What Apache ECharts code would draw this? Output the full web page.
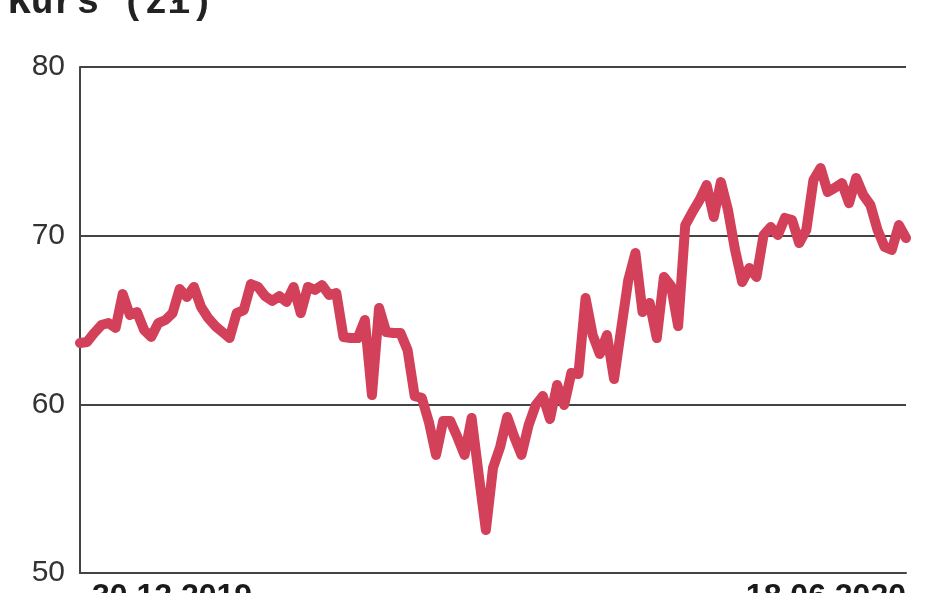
<!DOCTYPE html>
<html>
<head>
<meta charset="utf-8">
<script src="https://cdn.jsdelivr.net/npm/echarts@6/dist/echarts.min.js"></script>
<style>
html,body{margin:0;padding:0;background:#fff;}
#chart{width:948px;height:593px;}
</style>
</head>
<body>
<div id="chart"></div>
<script>
var titleText = 'Kurs (zł)';
var yTicks = [50, 60, 70, 80];
var dates = [
'30.12.2019',
'02.01.2020','03.01.2020','07.01.2020','08.01.2020','09.01.2020','10.01.2020','13.01.2020','14.01.2020','15.01.2020','16.01.2020','17.01.2020','20.01.2020','21.01.2020','22.01.2020','23.01.2020','24.01.2020','27.01.2020','28.01.2020','29.01.2020','30.01.2020','31.01.2020',
'03.02.2020','04.02.2020','05.02.2020','06.02.2020','07.02.2020','10.02.2020','11.02.2020','12.02.2020','13.02.2020','14.02.2020','17.02.2020','18.02.2020','19.02.2020','20.02.2020','21.02.2020','24.02.2020','25.02.2020','26.02.2020','27.02.2020','28.02.2020',
'02.03.2020','03.03.2020','04.03.2020','05.03.2020','06.03.2020','09.03.2020','10.03.2020','11.03.2020','12.03.2020','13.03.2020','16.03.2020','17.03.2020','18.03.2020','19.03.2020','20.03.2020','23.03.2020','24.03.2020','25.03.2020','26.03.2020','27.03.2020','30.03.2020','31.03.2020',
'01.04.2020','02.04.2020','03.04.2020','06.04.2020','07.04.2020','08.04.2020','09.04.2020','14.04.2020','15.04.2020','16.04.2020','17.04.2020','20.04.2020','21.04.2020','22.04.2020','23.04.2020','24.04.2020','27.04.2020','28.04.2020','29.04.2020','30.04.2020',
'04.05.2020','05.05.2020','06.05.2020','07.05.2020','08.05.2020','11.05.2020','12.05.2020','13.05.2020','14.05.2020','15.05.2020','18.05.2020','19.05.2020','20.05.2020','21.05.2020','22.05.2020','25.05.2020','26.05.2020','27.05.2020','28.05.2020','29.05.2020',
'01.06.2020','02.06.2020','03.06.2020','04.06.2020','05.06.2020','08.06.2020','09.06.2020','10.06.2020','12.06.2020','15.06.2020','16.06.2020','17.06.2020','18.06.2020'
];
var prices = [
63.64,63.70,64.23,64.70,64.82,64.53,66.54,65.30,65.47,64.41,
63.99,64.82,65.00,65.41,66.84,66.36,66.96,65.77,65.12,64.64,
64.29,63.93,65.41,65.59,67.13,66.96,66.42,66.13,66.42,66.07,
66.96,65.41,66.96,66.78,67.07,66.48,66.60,63.99,63.93,63.93,
65.00,60.55,65.71,64.29,64.23,64.23,63.22,60.49,60.38,58.95,
57.00,59.01,59.01,58.06,57.00,59.19,55.81,52.55,56.23,57.47,
59.25,58.06,57.00,58.77,59.96,60.49,59.13,61.15,59.96,61.86,
61.80,66.30,64.11,62.98,64.11,61.50,64.47,67.37,68.97,65.47,
66.01,63.93,67.55,67.02,64.64,70.63,71.40,72.11,73.00,71.11,
73.18,71.52,69.15,67.25,68.08,67.55,70.04,70.51,70.04,71.05,
70.93,69.56,70.34,73.30,74.01,72.59,72.83,73.12,71.93,73.42,
72.41,71.82,70.34,69.33,69.15,70.63,69.86
];

var chart = echarts.init(document.getElementById('chart'), null, {renderer:'canvas'});
var last = dates.length - 1;
var labelFont = '"Liberation Sans", Arial, sans-serif';
chart.setOption({
  animation: false,
  backgroundColor: '#ffffff',
  graphic: [{
    type: 'text',
    x: 8, y: -16,
    style: {
      text: titleText,
      font: 'bold 38px "Liberation Mono", "DejaVu Sans Mono", monospace',
      fill: '#222222'
    }
  }],
  grid: {left: 80, right: 42, top: 67, bottom: 20, containLabel: false, outerBoundsMode: 'none'},
  xAxis: {
    type: 'category',
    data: dates,
    boundaryGap: false,
    axisLine: {show: true, lineStyle: {color: '#444444', width: 2}},
    axisTick: {show: false},
    splitLine: {show: false},
    axisLabel: {
      interval: function (idx) { return idx === 0 || idx === last; },
      alignMinLabel: 'left',
      alignMaxLabel: 'right',
      margin: 8,
      color: '#1a1a1a',
      fontWeight: 'bold',
      fontSize: 32,
      fontFamily: labelFont,
      formatter: function (v, i) { return i === 0 ? '{l|' + v + '}' : '{r|' + v + '}'; },
      rich: {
        l: {padding: [0, 0, 0, 12], fontWeight: 'bold', fontSize: 32, color: '#1a1a1a', fontFamily: labelFont},
        r: {padding: [0, 0, 0, 0], fontWeight: 'bold', fontSize: 32, color: '#1a1a1a', fontFamily: labelFont}
      }
    }
  },
  yAxis: {
    type: 'value',
    min: yTicks[0],
    max: yTicks[yTicks.length - 1],
    interval: 10,
    axisLine: {show: true, lineStyle: {color: '#444444', width: 2}},
    axisTick: {show: false},
    splitLine: {show: true, lineStyle: {color: '#444444', width: 2}},
    axisLabel: {
      margin: 15,
      color: '#333333',
      fontSize: 30,
      fontFamily: labelFont
    }
  },
  series: [{
    type: 'line',
    data: prices,
    showSymbol: false,
    smooth: false,
    lineStyle: {color: '#d2405a', width: 10, join: 'round', cap: 'round'},
    itemStyle: {color: '#d2405a'}
  }]
});
</script>
</body>
</html>
